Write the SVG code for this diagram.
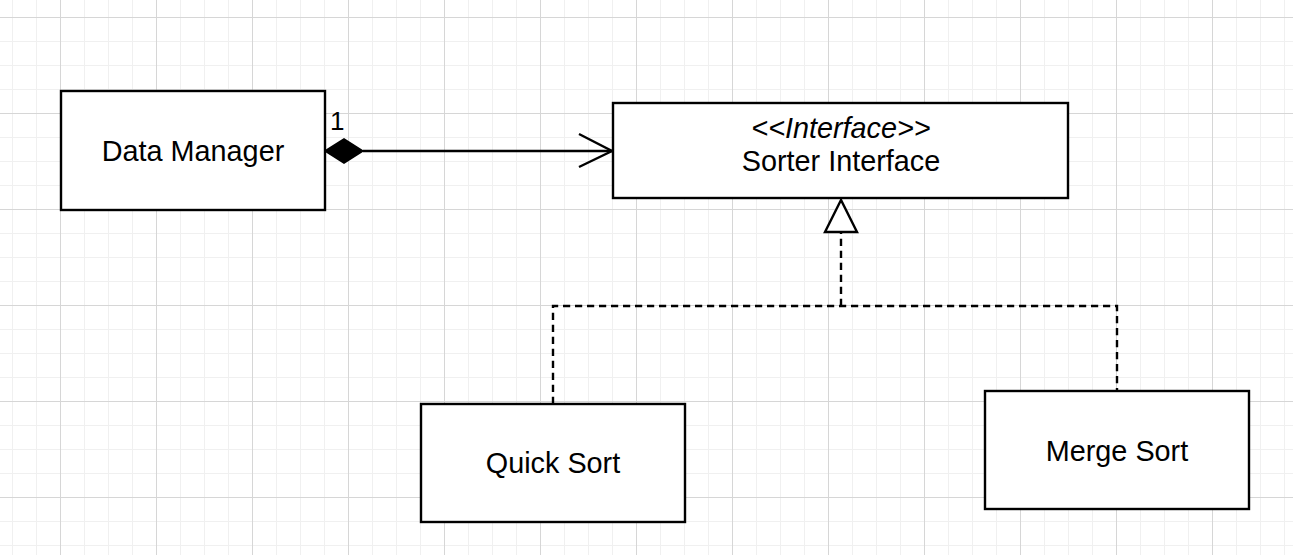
<svg xmlns="http://www.w3.org/2000/svg" width="1293" height="555" viewBox="0 0 1293 555">
<style>
.box{fill:#fff;stroke:#000;stroke-width:2.4}
.lbl{font-family:"Liberation Sans",Arial,sans-serif;font-size:28.8px;fill:#000;text-anchor:middle}
.edge{fill:none;stroke:#000;stroke-width:2.4}
.dash{stroke-dasharray:7.2 4.8}
</style>
<defs>
<pattern id="gmin" x="12" y="17" width="24" height="24" patternUnits="userSpaceOnUse">
<rect x="0" y="0" width="1" height="24" fill="#f0f0f0"/>
<rect x="0" y="0" width="24" height="1" fill="#f0f0f0"/>
</pattern>
<pattern id="gmaj" x="60" y="17" width="96" height="96" patternUnits="userSpaceOnUse">
<rect x="0" y="0" width="1" height="96" fill="#d6d6d6"/>
<rect x="0" y="0" width="96" height="1" fill="#d6d6d6"/>
</pattern>
</defs>
<rect width="1293" height="555" fill="#fff"/>
<rect width="1293" height="555" fill="url(#gmin)"/>
<rect width="1293" height="555" fill="url(#gmaj)"/>
<g id="connectors">
<g id="composition">
<line class="edge" x1="363" y1="151" x2="612" y2="151"/>
<polygon points="325,151 344,139 363,151 344,163" fill="#000" stroke="#000" stroke-width="1.5"/>
<polyline class="edge" points="579,134 612,151 579,167"/>
<text x="330" y="130" font-family="'Liberation Sans',Arial,sans-serif" font-size="26" fill="#000">1</text>
</g>
<g id="realization">
<polyline class="edge dash" points="553,404 553,306 1117,306 1117,391"/>
<line class="edge dash" x1="841" y1="306" x2="841" y2="233"/>
<polygon points="841,200 825,232 857,232" fill="#fff" stroke="#000" stroke-width="2.4"/>
</g>
</g>
<g id="data-manager">
<rect class="box" x="61" y="91" width="264" height="119"/>
<text class="lbl" x="193" y="161">Data Manager</text>
</g>
<g id="sorter-interface">
<rect class="box" x="613" y="103" width="455" height="95"/>
<text class="lbl" x="841" y="138" font-style="italic">&lt;&lt;Interface&gt;&gt;</text>
<text class="lbl" x="841" y="171">Sorter Interface</text>
</g>
<g id="quick-sort">
<rect class="box" x="421" y="404" width="264" height="118"/>
<text class="lbl" x="553" y="473">Quick Sort</text>
</g>
<g id="merge-sort">
<rect class="box" x="985" y="391" width="264" height="118"/>
<text class="lbl" x="1117" y="461">Merge Sort</text>
</g>
</svg>
